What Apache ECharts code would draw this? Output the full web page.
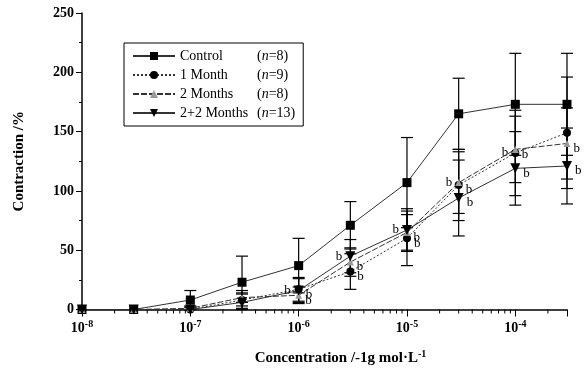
<!DOCTYPE html>
<html>
<head>
<meta charset="utf-8">
<script src="https://cdn.jsdelivr.net/npm/echarts@6/dist/echarts.min.js"></script>
<style>
  html, body { margin: 0; padding: 0; background: #fff; }
  #main { width: 588px; height: 371px; }
</style>
</head>
<body>
<div id="main"></div>
<script>
// concentrations (g/L) used on the x axis
const concentrations = [1e-8, 3e-8, 1e-7, 3e-7, 1e-6, 3e-6, 1e-5, 3e-5, 1e-4, 3e-4];

const seriesNames = ['Control', '1 Month', '2 Months', '2+2 Months'];
const seriesN = [8, 9, 8, 13];

const controlMean = [0, 0, 8, 23, 37, 71, 107, 165, 173, 173];
const controlErr  = [0, 0, 8, 22, 23, 20, 38, 30, 43, 43];
const month1Mean  = [0, 0, 0, 8, 17, 32, 60, 105, 132, 149];
const month1Err   = [0, 0, 2, 5, 10, 15, 23, 30, 36, 47];
const month2Mean  = [0, 0, 1, 10, 12, 40, 65, 107, 135, 140];
const month2Err   = [0, 0, 2, 4, 7, 12, 15, 26, 28, 30];
const month22Mean = [0, 0, 0, 6, 16, 45, 67, 94, 119, 121];
const month22Err  = [0, 0, 2, 10, 10, 14, 18, 32, 31, 32];

// "b" marks (significance) per point: '' none, 'left', 'right'
const month1Marks  = ['', '', '', '', 'right', 'right', 'right', 'right', 'left', ''];
const month2Marks  = ['', '', '', '', 'right', 'right', 'right', 'left', 'right', 'right'];
const month22Marks = ['', '', '', '', 'left', 'left', 'left', 'right', 'right', 'right'];

const yTicks = [0, 50, 100, 150, 200, 250];

const serif = 'Liberation Serif, Times New Roman, serif';

var myChart = echarts.init(document.getElementById('main'));

function points(mean, marks) {
    return concentrations.map(function (c, i) {
        var item = { value: [c, mean[i]] };
        if (marks && marks[i]) {
            item.label = {
                show: true,
                formatter: 'b',
                position: marks[i],
                offset: marks[i] === 'right' ? [-2, 5] : [2, 0],
                fontFamily: serif,
                fontSize: 13,
                color: '#000'
            };
        }
        return item;
    });
}

function errorData(mean, err) {
    var out = [];
    concentrations.forEach(function (c, i) {
        if (err[i] > 0) out.push([c, mean[i] - err[i], mean[i] + err[i]]);
    });
    return out;
}

function renderErrorBar(params, api) {
    var x = api.value(0);
    var lo = api.coord([x, Math.max(0, api.value(1))]);
    var hi = api.coord([x, api.value(2)]);
    var half = 6;
    var style = { stroke: '#000', lineWidth: 1.2 };
    return {
        type: 'group',
        children: [
            { type: 'line', shape: { x1: hi[0], y1: hi[1], x2: lo[0], y2: lo[1] }, style: style },
            { type: 'line', shape: { x1: hi[0] - half, y1: hi[1], x2: hi[0] + half, y2: hi[1] }, style: style },
            { type: 'line', shape: { x1: lo[0] - half, y1: lo[1], x2: lo[0] + half, y2: lo[1] }, style: style }
        ]
    };
}

// minor log ticks 2..9 x 10^k along the x axis
var minorTicks = [];
for (var k = -8; k <= -4; k++) {
    for (var m = 2; m <= 9; m++) {
        var v = m * Math.pow(10, k);
        if (v <= 3e-4) minorTicks.push([v, 0]);
    }
}

function renderMinorTick(params, api) {
    var p = api.coord([api.value(0), 0]);
    return {
        type: 'line',
        shape: { x1: p[0], y1: p[1], x2: p[0], y2: p[1] + 4 },
        style: { stroke: '#000', lineWidth: 1 }
    };
}

function lineSeries(idx, mean, marks, symbol, size, color, lineType) {
    return {
        name: seriesNames[idx],
        type: 'line',
        data: points(mean, marks),
        symbol: symbol,
        symbolSize: size,
        itemStyle: { color: color },
        lineStyle: { color: '#333', width: 1, type: lineType },
        z: 3
    };
}

function errorSeries(mean, err) {
    return {
        type: 'custom',
        renderItem: renderErrorBar,
        data: errorData(mean, err),
        encode: { x: 0, y: [1, 2] },
        silent: true,
        z: 2
    };
}

var option = {
    animation: false,
    backgroundColor: '#fff',
    grid: { left: 82, right: 21, top: 13, bottom: 59 },
    legend: {
        orient: 'vertical',
        left: 124,
        top: 43,
        padding: [6, 8, 6, 8],
        itemGap: 5,
        itemWidth: 42,
        itemHeight: 10,
        borderColor: '#000',
        borderWidth: 1,
        data: seriesNames,
        formatter: function (name) {
            var n = seriesN[seriesNames.indexOf(name)];
            return '{a|' + name + '}{b|(}{i|n}{b|=' + n + ')}';
        },
        textStyle: {
            fontFamily: serif,
            fontSize: 14,
            color: '#000',
            rich: {
                a: { fontFamily: serif, fontSize: 14, width: 77 },
                b: { fontFamily: serif, fontSize: 14 },
                i: { fontFamily: serif, fontSize: 14, fontStyle: 'italic' }
            }
        }
    },
    xAxis: {
        type: 'log',
        logBase: 10,
        min: 1e-8,
        max: 3e-4,
        name: '{t|Concentration /-1g mol·L}{s|-1}',
        nameLocation: 'middle',
        nameGap: 40,
        nameTextStyle: {
            padding: [0, 0, 0, 32],
            rich: {
                t: { fontFamily: serif, fontSize: 15, fontWeight: 'bold', color: '#000' },
                s: { fontFamily: serif, fontSize: 10, fontWeight: 'bold', color: '#000', verticalAlign: 'top', padding: [0, 0, 8, 0] }
            }
        },
        axisLine: { lineStyle: { color: '#000', width: 1.5 } },
        axisTick: { length: 7, lineStyle: { color: '#000' } },
        splitLine: { show: false },
        axisLabel: {
            margin: 10,
            formatter: function (val) {
                var e = Math.round(Math.log10(val));
                if (Math.abs(val - Math.pow(10, e)) / val > 0.01) return '';
                return '{b|10}{s|' + e + '}';
            },
            rich: {
                b: { fontFamily: serif, fontSize: 14, fontWeight: 'bold', color: '#000' },
                s: { fontFamily: serif, fontSize: 10, fontWeight: 'bold', color: '#000', verticalAlign: 'top', padding: [0, 0, 8, 0] }
            }
        }
    },
    yAxis: {
        type: 'value',
        min: yTicks[0],
        max: yTicks[yTicks.length - 1],
        interval: 50,
        name: 'Contraction /%',
        nameLocation: 'middle',
        nameGap: 55,
        nameTextStyle: { fontFamily: serif, fontSize: 15, fontWeight: 'bold', color: '#000' },
        axisLine: { show: true, lineStyle: { color: '#000', width: 1.5 } },
        axisTick: { show: true, length: 6, lineStyle: { color: '#000' } },
        minorTick: { show: true, splitNumber: 2, length: 3, lineStyle: { color: '#000' } },
        splitLine: { show: false },
        axisLabel: {
            margin: 8,
            fontFamily: serif,
            fontSize: 14,
            fontWeight: 'bold',
            color: '#000'
        }
    },
    series: [
        errorSeries(controlMean, controlErr),
        errorSeries(month1Mean, month1Err),
        errorSeries(month2Mean, month2Err),
        errorSeries(month22Mean, month22Err),
        {
            type: 'custom',
            renderItem: renderMinorTick,
            data: minorTicks,
            silent: true,
            clip: false,
            z: 1
        },
        lineSeries(0, controlMean, null, 'rect', 9, '#000', 'solid'),
        lineSeries(1, month1Mean, month1Marks, 'circle', 8, '#000', [2, 2]),
        lineSeries(2, month2Mean, month2Marks, 'triangle', 7, '#999', [6, 2]),
        lineSeries(3, month22Mean, month22Marks, 'path://M0,0 L10,0 L5,10 Z', 10, '#000', 'solid')
    ]
};

if (option && typeof option === 'object') {
    myChart.setOption(option, true);
}
</script>
</body>
</html>
